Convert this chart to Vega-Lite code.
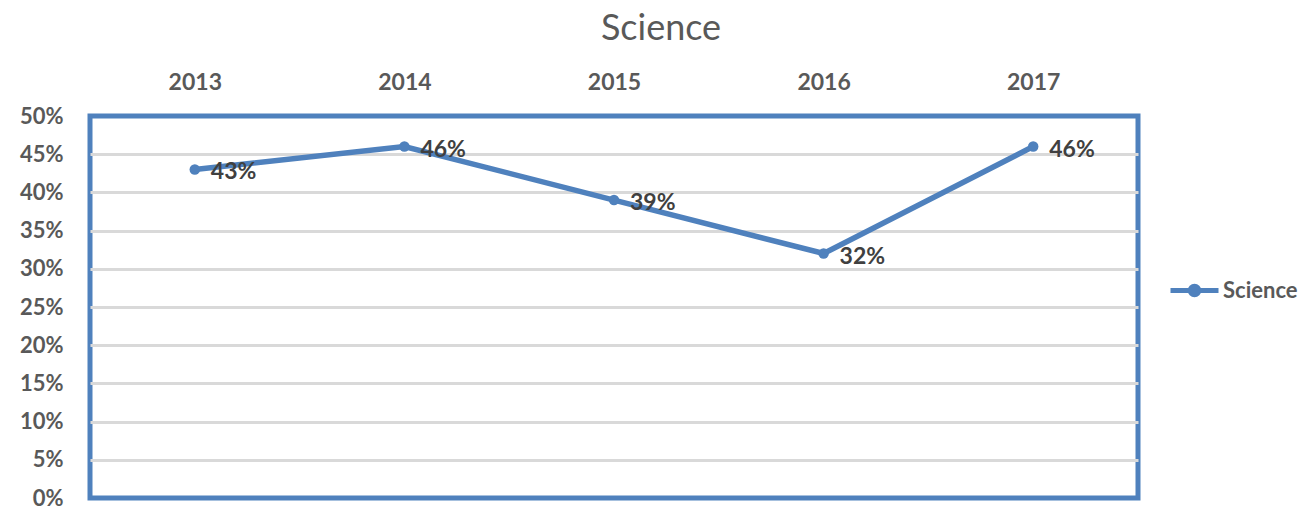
{
  "$schema": "https://vega.github.io/schema/vega-lite/v6.json",
  "autosize": {"type": "none"},
  "width": 1048,
  "height": 382,
  "padding": {"left": 90, "top": 116, "right": 166, "bottom": 14},
  "background": "white",
  "title": {
    "text": "Science",
    "fontSize": 36,
    "font": "Lato",
    "fontWeight": "normal",
    "color": "#595959",
    "anchor": "middle",
    "dx": 47,
    "offset": 23
  },
  "config": {
    "view": {"stroke": "#4f81bd", "strokeWidth": 5},
    "font": "Lato"
  },
  "data": {
    "values": [
      {"year": "2013", "value": 0.43, "series": "Science"},
      {"year": "2014", "value": 0.46, "series": "Science"},
      {"year": "2015", "value": 0.39, "series": "Science"},
      {"year": "2016", "value": 0.32, "series": "Science"},
      {"year": "2017", "value": 0.46, "series": "Science"}
    ]
  },
  "encoding": {
    "x": {
      "field": "year",
      "type": "ordinal",
      "scale": {"paddingInner": 0, "paddingOuter": 0},
      "axis": {
        "orient": "top",
        "title": null,
        "labelAngle": 0,
        "labelFontSize": 23,
        "labelFontWeight": "bold",
        "labelColor": "#595959",
        "labelPadding": 22,
        "ticks": false,
        "domain": false
      }
    },
    "y": {
      "field": "value",
      "type": "quantitative",
      "scale": {"domain": [0, 0.5], "nice": false},
      "axis": {
        "title": null,
        "format": ".0%",
        "values": [0, 0.05, 0.1, 0.15, 0.2, 0.25, 0.3, 0.35, 0.4, 0.45, 0.5],
        "labelFontSize": 22,
        "labelFontWeight": "bold",
        "labelColor": "#595959",
        "labelPadding": 27,
        "ticks": false,
        "domain": false,
        "grid": true,
        "gridWidth": 3,
        "gridColor": {"condition": {"test": "datum.value === 0 || datum.value === 0.5", "value": "transparent"}, "value": "#d9d9d9"}
      }
    }
  },
  "layer": [
    {
      "mark": {"type": "line", "strokeWidth": 5.5, "point": {"size": 110, "filled": true}},
      "encoding": {
        "color": {
          "field": "series",
          "type": "nominal",
          "scale": {"range": ["#4f81bd"]},
          "legend": {
            "title": null,
            "orient": "none",
            "legendX": 1078,
            "legendY": 148,
            "symbolType": "M-1,0L1,0M-0.18,0A0.18,0.18 0 1,1 0.18,0A0.18,0.18 0 1,1 -0.18,0",
            "symbolSize": 2304,
            "symbolStrokeWidth": 5,
            "symbolFillColor": "#4f81bd",
            "symbolStrokeColor": "#4f81bd",
            "labelFontSize": 22,
            "labelFontWeight": "bold",
            "labelColor": "#595959",
            "labelOffset": 2
          }
        }
      }
    },
    {
      "mark": {"type": "text", "align": "left", "baseline": "middle", "dx": 16, "dy": 3, "fontSize": 23, "fontWeight": "bold", "color": "#404040"},
      "encoding": {
        "text": {"field": "value", "type": "quantitative", "format": ".0%"}
      }
    }
  ]
}
